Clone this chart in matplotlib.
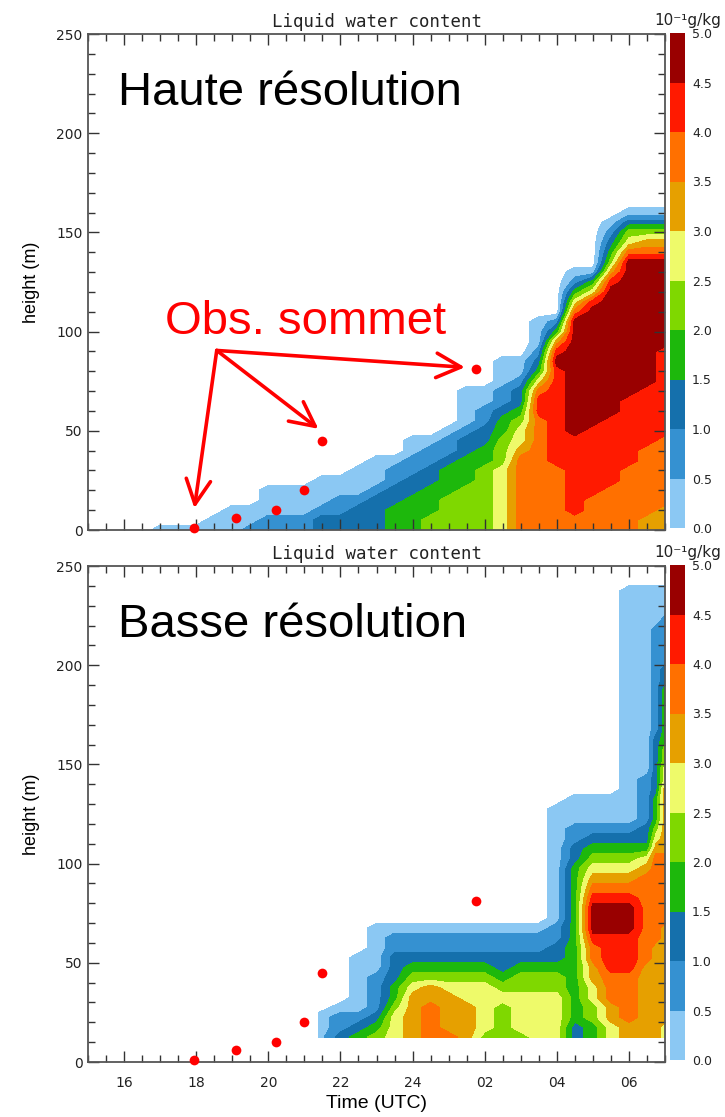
import numpy as np
import matplotlib.pyplot as plt

# colour bands of the liquid water content (10^-1 g/kg)
levels = [0.0, 0.5, 1.0, 1.5, 2.0, 2.5, 3.0, 3.5, 4.0, 4.5, 5.0]
band_colors = ["#8BC8F3", "#3591D1", "#1570AC", "#1DB80C", "#7FD800",
               "#EEFA6A", "#E6A000", "#FF7000", "#FF1A00", "#990000"]
level_labels = ["0.0", "0.5", "1.0", "1.5", "2.0", "2.5", "3.0", "3.5", "4.0", "4.5", "5.0"]

# observed fog top
obs_time = [17.95, 19.1, 20.2, 21.0, 21.5, 25.75]
obs_top = [1, 6, 10, 20, 45, 81]

# arrows of the "Obs. sommet" note
arrow_from = (18.57, 90.5)
arrow_tips = [(17.95, 11), (21.39, 51), (25.45, 82)]

xticks = [16, 18, 20, 22, 24, 26, 28, 30]
xtick_labels = ["16", "18", "20", "22", "24", "02", "04", "06"]

# each column: "band:top" from the lowest model level upwards (band k = k*0.5 .. k*0.5+0.5)
hr_times = [15.0, 15.5, 16.0, 16.5, 17.0, 17.5, 18.0, 18.5, 19.0, 19.5, 20.0,
            20.5, 21.0, 21.5, 22.0, 22.5, 23.0, 23.5, 24.0, 24.5, 25.0, 25.5,
            26.0, 26.5, 27.0, 27.5, 28.0, 28.5, 29.0, 29.5, 30.0, 30.5, 31.0]
hr_layers = [
    "", "", "", "",
    "0:2",
    "0:3",
    "0:4",
    "0:7",
    "0:12",
    "1:3 0:13",
    "1:6 0:24",
    "1:8 0:25",
    "1:9 0:25",
    "2:6 1:12 0:26",
    "2:10 1:17 0:30",
    "2:12 1:19 0:31",
    "2:16 1:25 0:37",
    "3:15 2:24 1:32 0:40",
    "3:19 2:29 1:37 0:46",
    "4:9 3:23 2:35 1:42 0:50",
    "4:16 3:31 2:40 1:47 0:55",
    "4:24 3:38 2:47 1:55 0:72",
    "4:32 3:45 2:54 1:62 0:72",
    "5:35 4:46 3:57 2:65 1:75 0:88",
    "7:40 6:45 5:52 4:58 3:64 2:72 1:80 0:90",
    "7:58 8:68 7:71 6:74 5:77 4:80 3:84 2:89 1:95 0:109",
    "7:33 8:84 9:90 8:92 7:94 6:96 5:98 4:100 3:102 2:104 1:107 0:110",
    "7:10 8:46 9:108 8:110 7:112 6:114 5:116 4:118 3:121 2:124 1:127 0:132",
    "7:18 8:53 9:114 8:116 7:118 6:120 5:122 4:124 3:126 2:128 1:130 0:133",
    "7:25 8:59 9:123 8:126 7:129 6:132 5:135 4:138 3:142 2:146 1:151 0:159",
    "7:35 8:66 9:136 8:139 7:142 6:145 5:148 4:151 3:154 2:157 1:160 0:163",
    "6:6 7:42 8:75 9:137 8:140 7:143 6:146 5:149 4:152 3:155 2:157 1:160 0:163",
    "6:14 7:47 8:92 9:137 8:140 7:143 6:146 5:149 4:152 3:155 2:157 1:160 0:164",
]

lr_times = [21.4, 22.0, 22.5, 23.0, 23.5, 24.0, 24.5, 25.0, 25.5, 26.0,
            26.5, 27.0, 27.5, 28.0, 28.5, 29.0, 29.5, 30.0, 30.5, 30.75, 31.0]
lr_layers = [
    "0:26",
    "2:14 1:24 0:31",
    "3:15 2:20 1:26 0:56",
    "4:13 3:18 2:25 1:45 0:72",
    "5:25 4:32 3:42 2:56 1:64 0:72",
    "6:33 5:40 4:45 3:50 2:57 1:64 0:72",
    "7:32 6:38 5:42 4:46 3:51 2:57 1:64 0:72",
    "7:15 6:36 5:42 4:46 3:51 2:57 1:65 0:72",
    "6:30 5:41 4:46 3:51 2:57 1:65 0:72",
    "4:13 5:38 4:43 3:48 2:56 1:65 0:71",
    "4:28 5:36 4:41 3:46 2:56 1:64 0:71",
    "4:14 5:37 4:43 3:48 2:57 1:64 0:70",
    "5:36 4:43 3:50 2:57 1:64 0:70",
    "5:35 4:44 3:52 2:60 1:70 0:132",
    "2:22 3:100 2:111 1:121 0:133",
    "3:20 4:30 5:40 6:50 7:58 8:66 9:79 8:85 7:91 6:95 5:100 4:104 3:108 2:113 1:122 0:133",
    "5:20 6:30 7:45 8:66 9:79 8:85 7:91 6:95 5:100 4:104 3:108 2:113 1:122 0:133",
    "6:22 7:45 8:66 9:79 8:85 7:91 6:94 5:98 4:103 3:108 2:113 1:122 0:240",
    "6:50 7:95 6:100 5:104 4:107 3:111 2:118 1:145 0:241",
    "6:60 7:103 6:112 5:117 4:121 3:135 2:165 1:218 0:241",
    "5:20 6:69 7:107 6:142 5:152 4:161 3:188 2:199 1:225 0:242",
]


def layer_grid(layers, heights, base):
    z = np.full((len(heights), len(layers)), -0.25)
    for j, col in enumerate(layers):
        low = base
        for item in col.split():
            band, top = item.split(":")
            top = float(top)
            z[(heights >= low) & (heights < top), j] = 0.5 * int(band) + 0.25
            low = top
    return z


W, H = 725, 1117
fig = plt.figure(figsize=(W / 100, H / 100), dpi=100)


def box(x0, y0, x1, y1):
    return [x0 / W, 1 - y1 / H, (x1 - x0) / W, (y1 - y0) / H]


def panel(top_px, times, layers, base, name, xlabels):
    ax = fig.add_axes(box(88, top_px, 665, top_px + 496))
    cax = fig.add_axes(box(670, top_px - 1, 685, top_px + 494))
    heights = np.arange(base, 252, 5.0)
    z = layer_grid(layers, heights, base)
    cf = ax.contourf(times, heights, z, levels=levels, colors=band_colors)

    ax.plot(obs_time, obs_top, "o", color="#FF0000", ms=7, mec="none",
            clip_on=False, zorder=5)

    ax.set_xlim(15, 31)
    ax.set_ylim(0, 250)
    ax.set_xticks(xticks)
    ax.set_xticks(np.arange(15, 31.01, 0.5), minor=True)
    ax.set_yticks([0, 50, 100, 150, 200, 250])
    ax.set_yticks(np.arange(0, 251, 10), minor=True)
    if xlabels:
        ax.set_xticklabels(xtick_labels)
    else:
        ax.set_xticklabels([])
    ax.tick_params(which="both", direction="in", top=True, right=True,
                   color="#333333", width=1, labelsize=10, labelcolor="#222222")
    ax.tick_params(which="major", length=8)
    ax.tick_params(which="minor", length=5)
    ax.tick_params(axis="x", pad=10)
    ax.tick_params(axis="y", pad=4)
    for s in ax.spines.values():
        s.set_color("#555555")
        s.set_linewidth(1.3)

    ax.set_ylabel("height (m)", family="Liberation Sans", fontsize=13)
    ax.yaxis.set_label_coords(-0.083, 0.5)
    ax.set_title("Liquid water content", family="DejaVu Sans Mono",
                 fontsize=12.5, pad=5, color="#222222")
    ax.text(15.83, 214, name, family="Liberation Sans", fontsize=34,
            va="baseline", ha="left")

    cb = fig.colorbar(cf, cax=cax, ticks=levels)
    cb.ax.set_yticklabels(level_labels)
    cb.outline.set_visible(False)
    cax.tick_params(length=0, labelsize=9, pad=5, labelcolor="#222222")
    fig.text(688 / W, 1 - (top_px - 9) / H, "10\u207b\u00b9g/kg",
             ha="center", va="baseline", fontsize=11, color="#222222")
    return ax


ax1 = panel(34, hr_times, hr_layers, 0.0, "Haute résolution", False)
ax2 = panel(566, lr_times, lr_layers, 12.5, "Basse résolution", True)

ax1.text(17.14, 99, "Obs. sommet", family="Liberation Sans", fontsize=34,
         color="#FF0000", va="baseline", ha="left")
for tip in arrow_tips:
    ax1.annotate("", xy=tip, xytext=arrow_from,
                 arrowprops=dict(arrowstyle="->,head_length=0.8,head_width=0.4",
                                 color="#FF0000", lw=2.6, mutation_scale=22,
                                 shrinkA=0, shrinkB=0))

ax2.set_xlabel("Time (UTC)", family="Liberation Sans", fontsize=14)
ax2.xaxis.set_label_coords(0.5, -0.066)

fig.savefig("out.png", dpi=100)
